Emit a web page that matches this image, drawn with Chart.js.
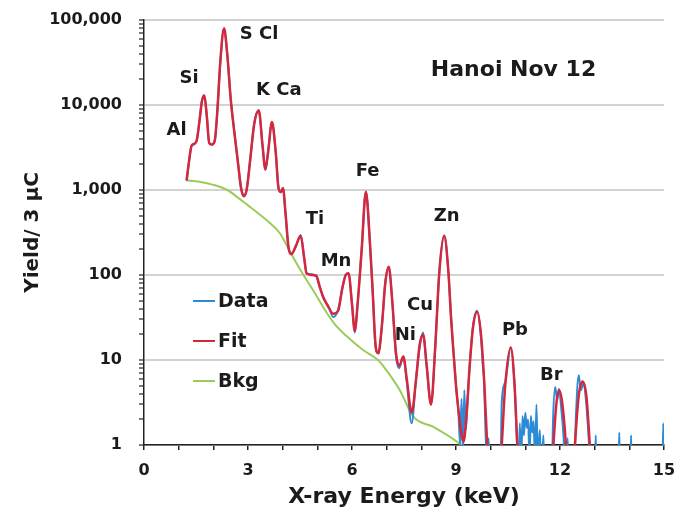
<!DOCTYPE html>
<html>
<head>
<meta charset="utf-8">
<script src="https://cdn.jsdelivr.net/npm/chart.js@4.4.1/dist/chart.umd.min.js"></script>
<style>
  html, body { margin: 0; padding: 0; background: #fff; }
  canvas { display: block; }
</style>
</head>
<body>
<canvas id="pixeChart" width="681" height="519"></canvas>
<script>
// Fit curve (keV, counts)
const fitEnergy = [1.23,1.30,1.37,1.45,1.52,1.60,1.67,1.74,1.81,1.88,1.95,2.04,2.12,2.20,2.31,2.40,2.50,2.60,2.70,2.80,
  2.88,2.96,3.06,3.18,3.31,3.42,3.50,3.58,3.69,3.80,3.88,3.95,4.01,4.08,4.17,4.25,4.38,4.52,4.62,4.69,
  4.83,4.97,5.07,5.17,5.32,5.46,5.60,5.72,5.82,5.90,6.00,6.08,6.16,6.28,6.40,6.52,6.60,6.68,6.76,6.86,
  6.96,7.06,7.16,7.27,7.36,7.48,7.58,7.72,7.85,7.95,8.05,8.15,8.28,8.40,8.52,8.66,8.78,8.86,8.93,9.00,
  9.07,9.15,9.22,9.30,9.39,9.49,9.61,9.72,9.82,9.90,9.96,10.26,10.32,10.42,10.58,10.69,10.77,10.83,
  11.75,11.81,11.90,11.98,12.07,12.17,12.22,12.37,12.43,12.54,12.65,12.76,12.86,12.92];
const fitYield = [1300,2200,3300,3500,3800,6500,11000,13000,7500,3600,3400,3800,9000,32000,80000,40000,12000,5000,2300,1050,
  850,1000,2200,6000,8700,3300,1750,2800,6300,2800,1050,950,1050,550,210,175,220,290,160,105,
  100,98,72,55,42,35,38,70,100,105,45,22,45,200,955,230,60,15,12,25,
  80,125,50,12,8.5,11,6,2.4,6,15,20,9,3,14,110,290,110,30,12,5,
  2.6,1.4,1.1,2.2,8,24,37,20,5,1,0.4,0.4,1,5,14,5,1,0.4,
  0.4,1,3.2,4.4,3,1,0.4,0.4,1,3.8,5.6,3.8,1,0.4];

// Measured spectrum
const dataEnergy = [1.23,1.30,1.37,1.45,1.52,1.60,1.67,1.74,1.81,1.88,1.95,2.04,2.12,2.20,2.31,2.40,2.50,2.60,2.70,2.80,
  2.88,2.96,3.06,3.18,3.31,3.42,3.50,3.58,3.69,3.80,3.88,3.95,4.01,4.08,4.17,4.25,4.38,4.52,4.62,4.69,
  4.83,4.97,5.07,5.17,5.32,5.46,5.60,5.72,5.82,5.90,6.00,6.08,6.16,6.28,6.40,6.52,6.60,6.68,6.76,6.86,
  6.96,7.06,7.16,7.27,7.36,7.48,7.58,7.72,7.85,7.95,8.05,8.15,8.28,8.40,8.52,8.66,8.78,8.86,8.93,9.00,
  9.07,9.12,9.16,9.20,9.24,9.28,9.33,9.39,9.49,9.61,9.72,9.78,9.81,9.85,9.90,9.94,9.98,
  10.28,10.32,10.42,10.58,10.69,10.76,10.80,10.84,10.88,10.92,10.96,11.00,11.04,11.08,11.12,11.16,11.20,11.24,11.28,
  11.32,11.36,11.42,11.46,11.52,11.56,11.76,11.80,11.86,11.92,11.97,12.04,12.10,12.16,12.22,12.26,
  12.40,12.46,12.54,12.60,12.68,12.76,12.84,12.90,13.00,13.03,13.06,13.68,13.71,13.74,14.02,14.05,14.08,14.95,14.98,15.00];
const dataYield = [1280,2150,3300,3450,3850,6400,11200,12800,7600,3550,3450,3750,9100,31000,79000,41000,11800,5100,2250,1070,
  840,1010,2180,6100,8600,3350,1720,2850,6250,2750,1060,940,1060,540,205,178,215,295,158,104,
  102,96,73,54,43,32,39,69,101,104,46,21,44,205,950,225,61,14,12,24,
  82,123,51,11,8,11,5.5,1.8,6.2,14,21,8.6,3,14,108,292,108,31,12,5,
  2.4,1,3.5,0.8,4.4,1.5,3,8,25,38,19,8,5.8,1.5,0.6,1.2,0.4,
  0.4,3.2,5.5,14,5,1,0.4,1.8,0.6,2.2,1.3,2.4,1.6,2,0.7,2.2,1.4,1.9,0.6,
  3,0.7,1.5,0.4,1.3,0.4,0.4,2,4.8,3.4,4.6,2.6,1.3,0.4,1.2,0.4,
  0.4,2.2,6.6,4.4,5.4,3,1,0.4,0.4,1.3,0.4,0.4,1.4,0.4,0.4,1.3,0.4,0.4,1.8,0.4];

// Background
const bkgEnergy = [1.23,1.6,2.0,2.4,2.7,3.0,3.3,3.6,3.92,4.1,4.31,4.6,4.88,5.27,5.55,5.85,6.33,6.75,7.0,7.38,7.77,8.34,9.02,9.2];
const bkgYield = [1300,1250,1150,1000,820,660,530,420,310,230,160,100,66,36,25,19,13,10,7.5,4.4,2.15,1.64,1.1,0.95];

const yDecades = [1, 10, 100, 1000, 10000, 100000];
const yTickLabels = ['1', '10', '100', '1,000', '10,000', '100,000'];
const xTickLabels = ['0', '3', '6', '9', '12', '15'];

// element labels, anchored in data coordinates (keV, counts)
const peakLabels = [
  { text: 'Al', e: 0.94, y: 5100 },
  { text: 'Si', e: 1.30, y: 20500 },
  { text: 'S Cl', e: 3.32, y: 67000 },
  { text: 'K Ca', e: 3.89, y: 15000 },
  { text: 'Ti', e: 4.93, y: 450 },
  { text: 'Mn', e: 5.54, y: 144 },
  { text: 'Fe', e: 6.45, y: 1660 },
  { text: 'Ni', e: 7.54, y: 19.6 },
  { text: 'Cu', e: 7.96, y: 44 },
  { text: 'Zn', e: 8.73, y: 494 },
  { text: 'Pb', e: 10.70, y: 22.5 },
  { text: 'Br', e: 11.75, y: 6.6 }
];

const FONT = 'DejaVu Sans';

function pts(xs, ys) {
  return xs.map((x, i) => ({ x: x, y: ys[i] }));
}

const textPlugin = {
  id: 'spectrumText',
  afterDraw(chart) {
    const ctx = chart.ctx;
    const xs = chart.scales.x, ys = chart.scales.y;
    const area = chart.chartArea;
    ctx.save();
    ctx.fillStyle = '#1b1b1b';
    ctx.textAlign = 'center';
    ctx.textBaseline = 'middle';
    ctx.font = 'bold 18px "' + FONT + '"';
    peakLabels.forEach(l => {
      ctx.fillText(l.text, xs.getPixelForValue(l.e), ys.getPixelForValue(l.y));
    });
    ctx.font = 'bold 22px "' + FONT + '"';
    ctx.fillText('Hanoi Nov 12', xs.getPixelForValue(10.66), ys.getPixelForValue(25800));

    // legend inside plot
    ctx.textAlign = 'left';
    ctx.font = 'bold 19px "' + FONT + '"';
    chart.data.datasets.forEach((ds, i) => {
      const y = area.top + 281 + i * 40;
      ctx.strokeStyle = ds.borderColor;
      ctx.lineWidth = 2;
      ctx.beginPath();
      ctx.moveTo(area.left + 49, y);
      ctx.lineTo(area.left + 71, y);
      ctx.stroke();
      ctx.fillText(ds.label, area.left + 74, y + 1);
    });
    ctx.restore();
  }
};

const ctx = document.getElementById('pixeChart').getContext('2d');
new Chart(ctx, {
  type: 'line',
  data: {
    datasets: [
      {
        label: 'Data',
        data: pts(dataEnergy, dataYield),
        borderColor: '#2b8bd6',
        borderWidth: 2,
        pointRadius: 0,
        cubicInterpolationMode: 'monotone',
        order: 1
      },
      {
        label: 'Fit',
        data: pts(fitEnergy, fitYield),
        borderColor: '#d3283d',
        borderWidth: 2.5,
        pointRadius: 0,
        cubicInterpolationMode: 'monotone',
        order: 0
      },
      {
        label: 'Bkg',
        data: pts(bkgEnergy, bkgYield),
        borderColor: '#9dcb5a',
        borderWidth: 2,
        pointRadius: 0,
        cubicInterpolationMode: 'monotone',
        order: 2
      }
    ]
  },
  options: {
    responsive: false,
    animation: false,
    layout: { padding: { top: 20, right: 17, bottom: 0, left: 0 } },
    plugins: { legend: { display: false }, tooltip: { enabled: false } },
    scales: {
      x: {
        type: 'linear',
        min: 0,
        max: 15,
        afterFit: s => {
          s.height = 74;
          s.paddingLeft = 0;
          s.paddingRight = 0;
        },
        afterBuildTicks: s => {
          s.ticks = [];
          for (let v = 0; v <= 15; v++) s.ticks.push({ value: v });
        },
        ticks: {
          autoSkip: false,
          maxRotation: 0,
          padding: 11,
          color: '#1b1b1b',
          font: { family: FONT, weight: 'bold', size: 16 },
          callback: v => (v % 3 === 0 ? xTickLabels[v / 3] : '')
        },
        grid: { drawOnChartArea: false, tickLength: 5, tickColor: '#222', lineWidth: 1.5 },
        border: { color: '#222', width: 1.5 },
        title: {
          display: true,
          text: 'X-ray Energy (keV)',
          color: '#1b1b1b',
          font: { family: FONT, weight: 'bold', size: 22 },
          padding: { top: 0, bottom: 9 }
        }
      },
      y: {
        type: 'logarithmic',
        min: 1,
        max: 100000,
        afterFit: s => {
          s.width = 144;
          s.paddingTop = 0;
          s.paddingBottom = 0;
        },
        afterBuildTicks: s => {
          s.ticks = [];
          yDecades.forEach(d => {
            for (let k = 1; k < 10; k++) if (d * k <= 100000) s.ticks.push({ value: d * k });
          });
        },
        ticks: {
          autoSkip: false,
          padding: 17,
          color: '#1b1b1b',
          font: { family: FONT, weight: 'bold', size: 16 },
          callback: v => {
            const i = yDecades.indexOf(v);
            return i >= 0 ? yTickLabels[i] : '';
          }
        },
        grid: {
          color: c => (c.tick && yDecades.includes(c.tick.value) ? '#d2d2d2' : 'rgba(0,0,0,0)'),
          lineWidth: 2,
          tickLength: 5,
          tickColor: '#222',
          tickWidth: 1.2
        },
        border: { color: '#222', width: 1.5 },
        title: {
          display: true,
          text: 'Yield/ 3 µC',
          color: '#1b1b1b',
          font: { family: FONT, weight: 'bold', size: 20 },
          padding: { top: 21, bottom: 0 }
        }
      }
    }
  },
  plugins: [textPlugin]
});
</script>
</body>
</html>
